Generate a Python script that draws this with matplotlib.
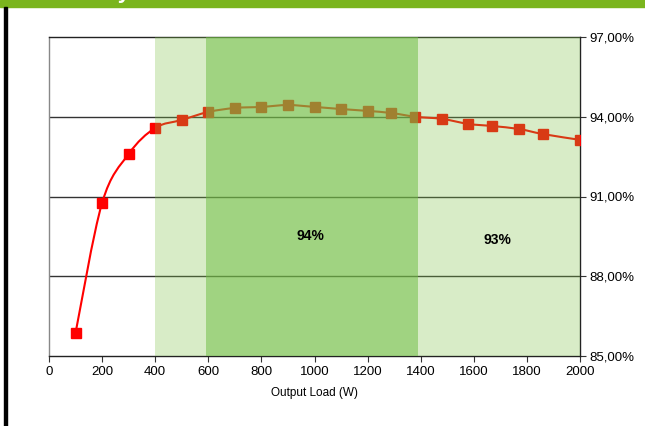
import matplotlib
matplotlib.use("Agg")
import matplotlib.pyplot as plt
from matplotlib.path import Path
from matplotlib.patches import PathPatch, Rectangle
import numpy as np

plt.rcParams['font.family'] = ['Liberation Sans', 'DejaVu Sans']

load_w = [100, 200, 300, 400, 500, 600, 700, 800, 900, 1000, 1100, 1200,
          1290, 1380, 1480, 1580, 1670, 1770, 1860, 2000]
efficiency = [85.87, 90.76, 92.60, 93.58, 93.88, 94.18, 94.33, 94.37, 94.44,
              94.37, 94.29, 94.22, 94.14, 94.00, 93.92, 93.73, 93.65, 93.54,
              93.35, 93.13]
band_93 = (400, 2000)
band_94 = (590, 1390)
band_labels = ["94%", "93%"]
label_pos = [(985, 89.5), (1688, 89.35)]
x_ticks = list(range(0, 2001, 200))
y_ticks = [85, 88, 91, 94, 97]
y_tick_labels = ["85,00%", "88,00%", "91,00%", "94,00%", "97,00%"]

fig = plt.figure(figsize=(6.45, 4.26), dpi=100)
# top green bar
fig.patches.append(Rectangle((0, 1 - 7 / 426), 1, 7 / 426, transform=fig.transFigure,
                             color="#7ab51d", zorder=0))
fig.text(131 / 645, 1 + 1.5 / 426, "Efficiency", color="white", fontsize=16,
         fontweight="bold", ha="right", va="baseline")
# left border line
fig.patches.append(Rectangle((4 / 645, 0), 2.5 / 645, 1 - 7 / 426,
                             transform=fig.transFigure, color="black", zorder=0))

ax = fig.add_axes([49 / 645, (426 - 356) / 426, 531 / 645, 319 / 426])
ax.set_xlim(0, 2000)
ax.set_ylim(85, 97)

# grid lines
for yv in [88, 91, 94]:
    ax.axhline(yv, color="#333333", lw=1.0, zorder=1)

# smooth curve via Catmull-Rom -> Bezier
xs = np.array(load_w, float)
ys = np.array(efficiency, float)
verts = [(xs[0], ys[0])]
codes = [Path.MOVETO]
n = len(xs)
for i in range(n - 1):
    p0 = (xs[max(i - 1, 0)], ys[max(i - 1, 0)])
    p1 = (xs[i], ys[i])
    p2 = (xs[i + 1], ys[i + 1])
    p3 = (xs[min(i + 2, n - 1)], ys[min(i + 2, n - 1)])
    t = 1 / 6
    c1 = (p1[0] + (p2[0] - p0[0]) * t, p1[1] + (p2[1] - p0[1]) * t)
    c2 = (p2[0] - (p3[0] - p1[0]) * t, p2[1] - (p3[1] - p1[1]) * t)
    verts += [c1, c2, p2]
    codes += [Path.CURVE4] * 3
ax.add_patch(PathPatch(Path(verts, codes), fill=False, edgecolor="#ff0000",
                       lw=1.5, zorder=3))
ax.plot(load_w, efficiency, linestyle="none", marker="s", markersize=7,
        color="#ff0000", zorder=4)

# semi-transparent bands on top
ax.axvspan(band_93[0], band_93[1], color="#80c348", alpha=0.3, lw=0, zorder=5)
ax.axvspan(band_94[0], band_94[1], color="#72be47", alpha=0.54, lw=0, zorder=5)

for lab, (lx, ly) in zip(band_labels, label_pos):
    ax.text(lx, ly, lab, ha="center", va="center", fontsize=10,
            fontweight="bold", zorder=6)

ax.set_xticks(x_ticks)
ax.set_xticklabels([str(v) for v in x_ticks], fontsize=9.5)
ax.yaxis.tick_right()
ax.set_yticks(y_ticks)
ax.set_yticklabels(y_tick_labels, fontsize=9.5)
ax.tick_params(axis="both", direction="out", length=4, width=0.8, color="#333333")
ax.tick_params(axis="y", pad=3)
ax.set_xlabel("Output Load (W)", fontsize=8.5, labelpad=6)

for s in ["top", "right", "bottom"]:
    ax.spines[s].set_color("#222222")
    ax.spines[s].set_linewidth(1.0)
ax.spines["left"].set_color("#888888")
ax.spines["left"].set_linewidth(1.0)

fig.savefig("out.png", dpi=100)
